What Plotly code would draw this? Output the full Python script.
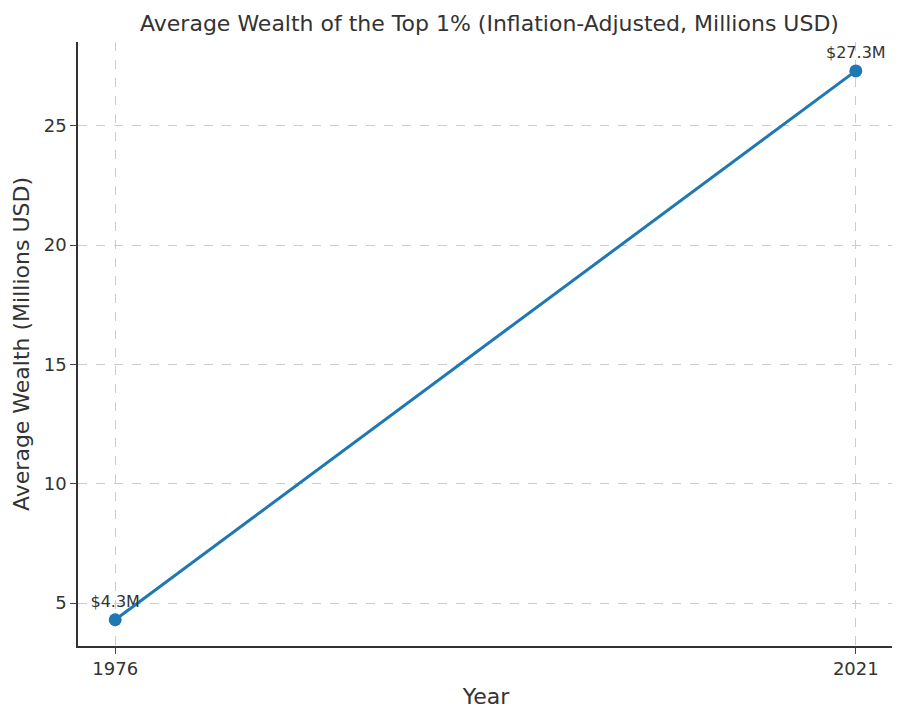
import plotly.graph_objects as go

years = [1976, 2021]
wealth = [4.3, 27.3]
labels = ["$4.3M", "$27.3M"]

fig = go.Figure()
fig.add_trace(go.Scatter(
    x=years, y=wealth, mode="lines+markers+text",
    line=dict(color="#1f77b4", width=3),
    marker=dict(size=13, color="#1f77b4"),
    text=labels, textposition="top center",
    textfont=dict(size=16, color="#333333"),
    cliponaxis=False,
))

fig.update_layout(
    width=900, height=718,
    font=dict(family="DejaVu Sans", color="#333333", size=18),
    title=dict(text="Average Wealth of the Top 1% (Inflation-Adjusted, Millions USD)",
               x=0.535, xanchor="center", y=0.99, yanchor="top", font=dict(size=22)),
    paper_bgcolor="white", plot_bgcolor="white",
    margin=dict(l=68, r=14, t=34, b=80),
    showlegend=False,
)
fig.update_xaxes(
    range=[1973.74, 2023.32], tickvals=years, title=dict(text="Year", standoff=10),
    tickfont=dict(size=18),
    showline=True, linecolor="#333333", linewidth=1.5, ticks="outside", ticklen=6,
    showgrid=True, gridcolor="#cccccc", griddash="dash", zeroline=False,
)
fig.update_yaxes(
    range=[3.2, 28.51], tickvals=[5, 10, 15, 20, 25],
    title=dict(text="Average Wealth (Millions USD)", standoff=8),
    tickfont=dict(size=18),
    showline=True, linecolor="#333333", linewidth=1.5, ticks="outside", ticklen=6,
    showgrid=True, gridcolor="#cccccc", griddash="dash", zeroline=False,
)

fig.write_html("out.html")
